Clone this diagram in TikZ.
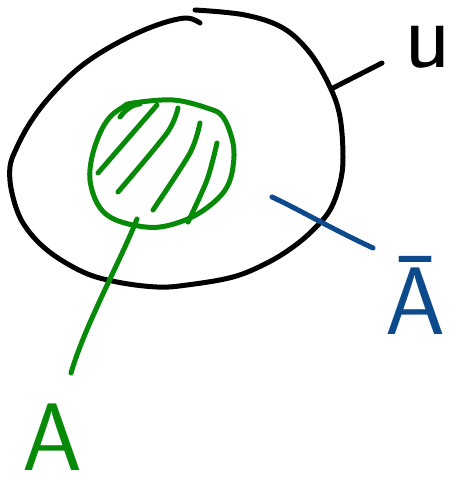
\documentclass[tikz,border=0pt]{standalone}
\usepackage{fontspec}
\usepackage{tikz}
\definecolor{penblack}{HTML}{000000}
\definecolor{pengreen}{HTML}{078A07}
\definecolor{penblue}{HTML}{0C4A8C}
\tikzset{
  stroke/.style={line width=5pt, line cap=round, line join=round},
  setlabel/.style={inner sep=0pt, font=\sffamily\fontsize{96}{96}\selectfont},
}

\begin{document}
\begin{tikzpicture}[x=1pt, y=-1pt]
  \useasboundingbox (0,0) rectangle (459,479);
  % universe
  \draw[stroke, penblack] plot[smooth, tension=0.6] coordinates {(195,10) (245,15) (283,28) (310,53) (330,87) (340,117) (343,157) (340,183) (330,210) (313,230) (293,247) (267,263) (233,277) (187,285) (157,287) (117,282) (83,272) (47,250) (23,223) (12,193) (10,167) (17,147) (30,123) (47,100) (73,73) (100,53) (133,35) (163,23) (187,18) (200,23)};
  % set A
  \draw[stroke, pengreen] plot[smooth cycle, tension=0.6] coordinates {(133,103) (173,100) (207,108) (223,117) (233,143) (233,167) (227,187) (213,203) (190,218) (160,227) (133,225) (110,217) (97,203) (90,180) (92,157) (100,133) (110,117) (123,107)};
  \draw[stroke, pengreen] (120,117) .. controls (125,110) and (133,104) .. (140,104);
  \draw[stroke, pengreen] (98,173) -- (157,105);
  \draw[stroke, pengreen] plot[smooth] coordinates {(118,192) (167,133) (178,108)};
  \draw[stroke, pengreen] plot[smooth] coordinates {(153,210) (190,153) (200,123)};
  \draw[stroke, pengreen] plot[smooth] coordinates {(188,222) (207,180) (217,143)};
  % labels
  \node[setlabel, penblack] (univ) at (428,47) {u};
  \node[setlabel, pengreen] (setA) at (52,437) {A};
  \node[setlabel, penblue, anchor=base] (setAbar) at (415,334) {\=A};
  % connectors
  \coordinate (uFoot) at (333,88);
  \coordinate (uTip) at (382,63);
  \draw[stroke, penblack] (uFoot) -- (uTip);
  \coordinate (aFoot) at (137,219);
  \coordinate (aTip) at (71,373);
  \draw[stroke, pengreen] (aFoot) .. controls (120,262) and (85,325) .. (aTip);
  \coordinate (abFoot) at (272,197);
  \coordinate (abTip) at (373,248);
  \draw[stroke, penblue] (abFoot) .. controls (300,210) and (330,228) .. (abTip);
\end{tikzpicture}
\end{document}
